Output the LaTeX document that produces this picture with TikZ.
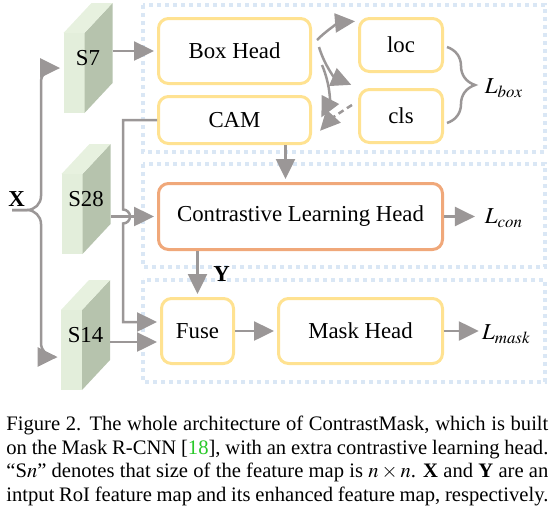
\documentclass[tikz,border=0pt]{standalone}
\usepackage{mathptmx}
\usepackage{fontspec}
\setmainfont{Liberation Serif}
\usetikzlibrary{arrows.meta,decorations.pathreplacing}

\definecolor{arrgray}{RGB}{155,151,151}
\definecolor{hdyellow}{RGB}{255,226,145}
\definecolor{hdorange}{RGB}{240,168,122}
\definecolor{grpblue}{RGB}{218,231,245}
\definecolor{cubfront}{RGB}{227,238,219}
\definecolor{cubside}{RGB}{182,195,173}
\definecolor{cubtop}{RGB}{231,241,223}
\definecolor{citegreen}{RGB}{40,200,40}

\begin{document}
\begin{tikzpicture}[x=0.5pt,y=-0.5pt,font=\fontsize{11.4}{13.7}\selectfont]
	\tikzstyle{hd}=[draw=hdyellow, line width=1.5pt, rounded corners=5pt, align=center]
	\tikzstyle{grp}=[draw=grpblue, line width=1.8pt, dash pattern=on 1.8pt off 2.2pt]
	\tikzstyle{arr}=[draw=arrgray, line width=1.25pt, -{Triangle[length=10pt,width=9.5pt]}, shorten >=1.5pt]
	\tikzstyle{brc}=[draw=arrgray, line width=1.25pt, decorate, decoration={brace, amplitude=14pt}]
	\tikzstyle{cub}=[minimum width=24.5pt, minimum height=55pt, inner sep=0pt, path picture={
		\fill[cubfront] (path picture bounding box.south west) rectangle ([xshift=-14pt,yshift=-15pt]path picture bounding box.north east);
		\fill[cubside] ([xshift=-14pt]path picture bounding box.south east) -- ([xshift=-14pt,yshift=-15pt]path picture bounding box.north east) -- (path picture bounding box.north east) -- ([yshift=15pt]path picture bounding box.south east) -- cycle;
		\fill[cubtop] ([yshift=-15pt]path picture bounding box.north west) -- ([xshift=14pt]path picture bounding box.north west) -- (path picture bounding box.north east) -- ([xshift=-14pt,yshift=-15pt]path picture bounding box.north east) -- cycle;
	}]

	\useasboundingbox (0,0) rectangle (557,511);

	\draw[grp] (143,5) rectangle (545,152);
	\draw[grp] (143,164) rectangle (545,267);
	\draw[grp] (143,280) rectangle (545,382);

	\node[cub] (s7) at (88,58) {S7};
	\node[cub] (s28) at (86,199) {S28};
	\node[cub] (s14) at (85.5,335) {S14};

	\node (xin) at (16.5,199.5) {\textbf{X}};
	\coordinate (xtip) at (12,210);
	\coordinate (xbr) at (41,210);
	\coordinate (hop) at (123,216.5);

	\node[hd, minimum width=76pt, minimum height=32.5pt] (box) at (234.5,51) {Box Head};
	\node[hd, minimum width=76pt, minimum height=23.5pt] (cam) at (234.5,120) {CAM};
	\node[hd, minimum width=41.5pt, minimum height=26.5pt] (loc) at (401,45) {loc};
	\node[hd, minimum width=41.5pt, minimum height=26.5pt] (cls) at (401,116) {cls};
	\node[hd, draw=hdorange, minimum width=142pt, minimum height=33pt] (clh) at (300.5,216.5) {Contrastive Learning Head};
	\node[hd, minimum width=36pt, minimum height=32.5pt] (fuse) at (197.5,331) {Fuse};
	\node[hd, minimum width=82pt, minimum height=32.5pt] (mask) at (360.5,331) {Mask Head};

	\node (lbox) at (504,88) {$L_{box}$};
	\node (lcon) at (504,218) {$L_{con}$};
	\node[inner sep=0pt] (lmask) at (506.5,334) {$L_{mask}$};

	\draw[arr, rounded corners=7pt] (xtip) -- (xbr) |- ([yshift=-5pt]s7.west);
	\draw[arr, rounded corners=7pt] (xtip) -- (xbr) |- ([yshift=-11pt]s14.west);
	\draw[arr] (s7.east |- box.west) -- (box.west);
	\draw[arr] (s28.east |- clh.west) -- (clh.west);
	\draw[arr] ([yshift=-5.5pt]fuse.west -| s14.east) -- ([yshift=-5.5pt]fuse.west);
	\draw[arr] (cam.west) -| ([yshift=3.5pt]hop) arc[start angle=90, end angle=-90, radius=3.5pt] |- ([yshift=4.5pt]fuse.west);

	\draw[arr] ([xshift=2.5pt,yshift=5.5pt]box.east) to[bend left=20] ([yshift=12pt]loc.west);
	\draw[arr] ([xshift=3.5pt,yshift=2pt]box.east) to[bend right=25] ([xshift=-2pt,yshift=15pt]cls.west);
	\draw[arr] ([xshift=5pt,yshift=-7pt]box.east) to[bend left=25] ([xshift=4pt]cam.east);
	\draw[arr, dash pattern=on 3pt off 2pt] ([xshift=-3pt,yshift=5.5pt]cls.west) to[bend right=8] ([xshift=3pt,yshift=-6.5pt]cam.east);
	\draw[brc] ([xshift=1.5pt,yshift=-1pt]loc.east) -- ([xshift=1.5pt,yshift=-3.5pt]cls.east);

	\draw[arr] ([xshift=25.5pt]cam.south) -- ([xshift=25.5pt]cam.south |- clh.north);
	\draw[arr] (fuse.north |- clh.south) -- node[right, xshift=4pt] {\textbf{Y}} (fuse.north);
	\draw[arr] (fuse.east) -- (mask.west);
	\draw[arr] (clh.east) -- (clh.east -| lcon.west);
	\draw[arr] (mask.east) -- (mask.east -| lmask.west);

	\node[anchor=north west, inner sep=0pt, text width=271pt, align=justify, font=\fontsize{10.3}{11.7}\selectfont] (cap) at (6,416) {\parfillskip=0pt Figure 2. The whole architecture of ContrastMask, which is built\linebreak on the Mask R-CNN [\textcolor{citegreen}{18}], with an extra contrastive learning head.\linebreak “S$n$” denotes that size of the feature map is $n\times n$. \textbf{X} and \textbf{Y} are an\linebreak intput RoI feature map and its enhanced feature map, respectively.};
\end{tikzpicture}
\end{document}
